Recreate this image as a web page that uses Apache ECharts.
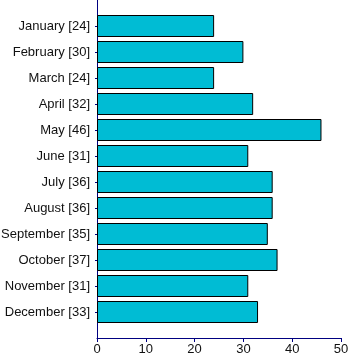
<!DOCTYPE html>
<html><head><meta charset="utf-8">
<script src="https://cdn.jsdelivr.net/npm/echarts@6/dist/echarts.min.js"></script>
<style>html,body{margin:0;padding:0;background:#fff}#c{width:350px;height:364px}</style>
</head><body><div id="c"></div>
<script>
const months = ['January','February','March','April','May','June','July','August','September','October','November','December'];
const values = [24,30,24,32,46,31,36,36,35,37,31,33];
const xTicks = [0,10,20,30,40,50];

const cats = [''].concat(months.map((m,i)=>m+' ['+values[i]+']')).concat(['']);
const data = [null].concat(values).concat([null]);

const chart = echarts.init(document.getElementById('c'));
chart.setOption({
  animation:false,
  grid:{left:97,right:9,top:0,bottom:26,containLabel:false,outerBoundsMode:'none'},
  xAxis:{type:'value',min:xTicks[0],max:xTicks[xTicks.length-1],interval:10,
    axisLine:{show:true,lineStyle:{color:'#000080',width:1}},
    axisTick:{show:true,length:4,lineStyle:{color:'#000080'}},
    axisLabel:{color:'#111',fontSize:13,fontFamily:'Liberation Sans, Arial',margin:5},
    splitLine:{show:false}},
  yAxis:{type:'category',data:cats,inverse:true,boundaryGap:false,
    axisLine:{show:true,lineStyle:{color:'#000080',width:1}},
    axisTick:{show:true,length:2,lineStyle:{color:'#000080'},interval:function(i,v){return v!=='';}},
    axisLabel:{color:'#111',fontSize:13,fontFamily:'Liberation Sans, Arial',margin:7,interval:0},
    splitLine:{show:false}},
  series:[{type:'bar',data:data,barWidth:22,
    itemStyle:{color:'#00BCD4',borderColor:'#000',borderWidth:1}}]
});
</script></body></html>
